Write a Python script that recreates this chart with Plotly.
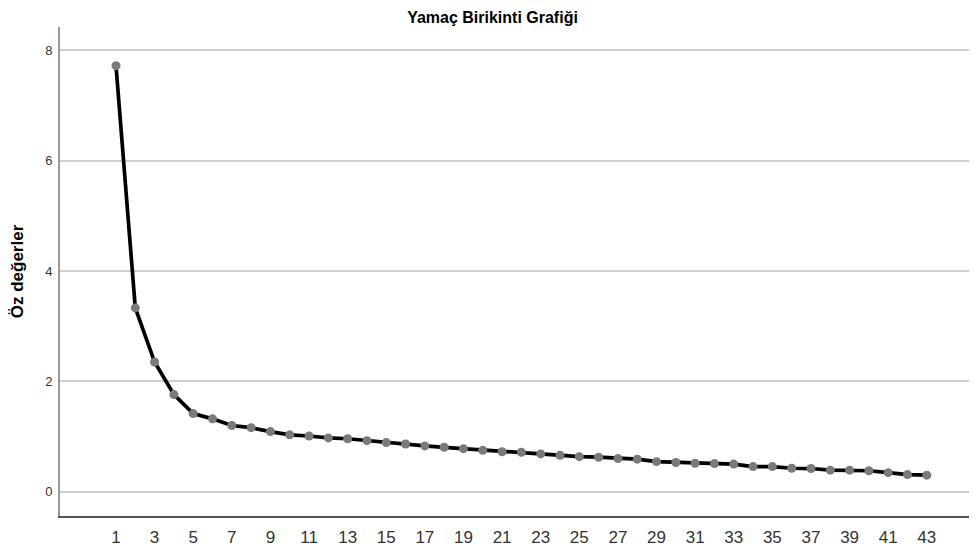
import plotly.graph_objects as go

components = list(range(1, 44))
eigenvalues = [7.72, 3.33, 2.35, 1.76, 1.415, 1.32, 1.20, 1.16, 1.09, 1.03,
               1.01, 0.975, 0.96, 0.925, 0.89, 0.865, 0.83, 0.805, 0.78, 0.75,
               0.725, 0.715, 0.685, 0.66, 0.635, 0.625, 0.60, 0.59, 0.545, 0.53,
               0.515, 0.51, 0.50, 0.455, 0.455, 0.425, 0.42, 0.39, 0.39, 0.38,
               0.345, 0.31, 0.30]
x_ticks = list(range(1, 44, 2))
y_ticks = [0, 2, 4, 6, 8]

fig = go.Figure()
fig.add_trace(go.Scatter(
    x=components, y=eigenvalues, mode="lines+markers",
    line=dict(color="black", width=3.7),
    marker=dict(color="#7a7a7a", size=9),
    showlegend=False,
))

# page body keeps its 8px default margin, so the figure is 8px smaller
fig.update_layout(
    width=969, height=542,
    margin=dict(l=52, r=0, t=19, b=34),
    paper_bgcolor="white", plot_bgcolor="white",
    font=dict(family="Liberation Sans, Arial, sans-serif", color="#222"),
    title=dict(text="<b>Yamaç Birikinti Grafiği</b>", x=0.5, xanchor="center",
               y=0.982, yanchor="middle",
               font=dict(size=16, color="black")),
)
fig.update_xaxes(
    range=[-1.9, 45.6], tickvals=x_ticks, showgrid=False, zeroline=False,
    showline=True, linecolor="#555", linewidth=1.5,
    ticks="outside", ticklen=5, tickcolor="rgba(0,0,0,0)",
    tickfont=dict(size=17, color="#333"),
)
fig.update_yaxes(
    range=[-0.44, 8.42], tickvals=y_ticks, zeroline=False,
    showgrid=True, gridcolor="#cfcfcf", gridwidth=1.5,
    showline=True, linecolor="#999", linewidth=2,
    ticks="outside", ticklen=3, tickcolor="rgba(0,0,0,0)",
    tickfont=dict(size=13, color="#333"),
    title=dict(text="<b>Öz değerler</b>", font=dict(size=17, color="black"),
               standoff=20),
)

fig.write_html("out.html")
